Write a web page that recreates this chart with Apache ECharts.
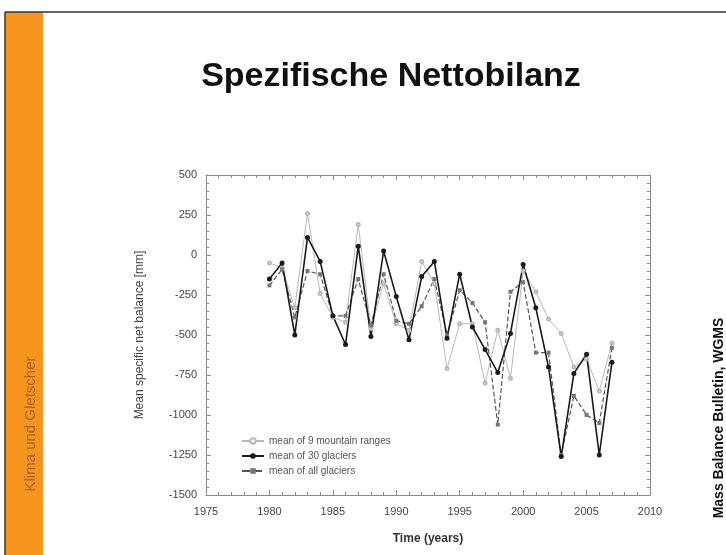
<!DOCTYPE html>
<html>
<head>
<meta charset="utf-8">
<script src="https://cdn.jsdelivr.net/npm/echarts@6/dist/echarts.min.js"></script>
<style>
  html, body { margin: 0; padding: 0; background: #fff; }
  #main { width: 726px; height: 555px; }
</style>
</head>
<body>
<div id="main"></div>
<script>
// years on the x axis
var years = [1980, 1981, 1982, 1983, 1984, 1985, 1986, 1987, 1988, 1989,
    1990, 1991, 1992, 1993, 1994, 1995, 1996, 1997, 1998, 1999,
    2000, 2001, 2002, 2003, 2004, 2005, 2006, 2007];

// mean of 9 mountain ranges (light grey)
var ranges9 = [-50, -80, -330, 260, -240, -390, -420, 190, -460, -180,
    -430, -470, -40, -180, -710, -430, -430, -800, -470, -770,
    -100, -230, -400, -490, -700, -650, -850, -550];

// mean of 30 glaciers (black)
var glaciers30 = [-150, -50, -500, 110, -40, -380, -560, 55, -510, 25,
    -260, -530, -135, -40, -520, -120, -450, -590, -735, -490,
    -60, -330, -700, -1260, -740, -620, -1250, -670];

// mean of all glaciers (dashed)
var allGlaciers = [-190, -90, -390, -100, -120, -380, -380, -150, -440, -120,
    -410, -430, -320, -150, -500, -220, -300, -420, -1060, -230,
    -170, -610, -610, -1250, -880, -1000, -1050, -580];

var seriesNames = ['mean of 9 mountain ranges', 'mean of 30 glaciers', 'mean of all glaciers'];

function pairs(vals) {
    return years.map(function(y, i) { return [y, vals[i]]; });
}

var myChart = echarts.init(document.getElementById('main'));

var frameColor = '#8a8a8a';
var labelColor = '#444';

// box axes, ticks point inward
function boxAxis(pos, main) {
    return {
        type: 'value',
        position: pos,
        axisLine: { show: true, onZero: false, lineStyle: { color: frameColor, width: 1 } },
        axisTick: { show: true, inside: true, length: 5, lineStyle: { color: frameColor } },
        minorTick: { show: true, splitNumber: 5, length: 3, lineStyle: { color: frameColor } },
        splitLine: { show: false },
        axisLabel: { show: main }
    };
}

// plain numbers, no thousands separator
function plain(v) { return String(v); }

var xBottom = boxAxis('bottom', true);
xBottom.min = 1975; xBottom.max = 2010; xBottom.interval = 5;
xBottom.axisLabel = { color: labelColor, fontSize: 11, margin: 11, fontFamily: 'Liberation Sans', formatter: plain };
xBottom.name = 'Time (years)';
xBottom.nameLocation = 'middle';
xBottom.nameGap = 38;
xBottom.nameTextStyle = { color: '#333', fontSize: 12, fontWeight: 'bold', fontFamily: 'Liberation Sans' };

var xTop = boxAxis('top', false);
xTop.min = 1975; xTop.max = 2010; xTop.interval = 5;

var yLeft = boxAxis('left', true);
yLeft.min = -1500; yLeft.max = 500; yLeft.interval = 250;
yLeft.axisLabel = { color: labelColor, fontSize: 11, margin: 9, fontFamily: 'Liberation Sans', formatter: plain };
yLeft.name = 'Mean specific net balance [mm]';
yLeft.nameLocation = 'middle';
yLeft.nameGap = 60;
yLeft.nameTextStyle = { color: '#444', fontSize: 12, fontFamily: 'Liberation Sans' };

var yRight = boxAxis('right', false);
yRight.min = -1500; yRight.max = 500; yRight.interval = 250;

var option = {
    animation: false,
    backgroundColor: '#fff',
    grid: { left: 206, right: 76, top: 175, bottom: 60 },
    xAxis: [xBottom, xTop],
    yAxis: [yLeft, yRight],
    legend: {
        orient: 'vertical',
        left: 236,
        top: 431,
        itemWidth: 22,
        itemHeight: 7,
        itemGap: 5,
        textStyle: { color: '#555', fontSize: 10, fontFamily: 'Liberation Sans' },
        data: seriesNames
    },
    graphic: [
        { type: 'rect', shape: { x: 5, y: 12, width: 38, height: 543 }, style: { fill: '#f7941d' }, silent: true },
        { type: 'line', shape: { x1: 5, y1: 12, x2: 726, y2: 12 }, style: { stroke: '#333', lineWidth: 1.5 }, silent: true },
        { type: 'line', shape: { x1: 5, y1: 12, x2: 5, y2: 555 }, style: { stroke: '#333', lineWidth: 1.5 }, silent: true },
        {
            type: 'text', x: 31, y: 424, rotation: Math.PI / 2,
            style: { text: 'Klima und Gletscher', fill: '#9c6630', font: '15px "Liberation Sans"', align: 'center', verticalAlign: 'middle' }
        },
        {
            type: 'text', x: 719, y: 418, rotation: Math.PI / 2,
            style: { text: 'Mass Balance Bulletin, WGMS', fill: '#111', font: 'bold 14px "Liberation Sans"', align: 'center', verticalAlign: 'middle' }
        },
        {
            type: 'text', x: 391, y: 77,
            style: { text: 'Spezifische Nettobilanz', fill: '#111', font: 'bold 34px "Liberation Sans"', align: 'center', verticalAlign: 'middle' }
        }
    ],
    series: [
        {
            name: seriesNames[0],
            type: 'line',
            data: pairs(ranges9),
            symbol: 'emptyCircle',
            symbolSize: 3,
            itemStyle: { color: '#b8b8b8' },
            lineStyle: { color: '#b8b8b8', width: 1 }
        },
        {
            name: seriesNames[2],
            type: 'line',
            data: pairs(allGlaciers),
            symbol: 'rect',
            symbolSize: 4,
            itemStyle: { color: '#777' },
            lineStyle: { color: '#555', width: 1.2, type: 'dashed' }
        },
        {
            name: seriesNames[1],
            type: 'line',
            data: pairs(glaciers30),
            symbol: 'circle',
            symbolSize: 5,
            itemStyle: { color: '#1a1a1a' },
            lineStyle: { color: '#1a1a1a', width: 1.6 }
        }
    ]
};

myChart.setOption(option);
</script>
</body>
</html>
